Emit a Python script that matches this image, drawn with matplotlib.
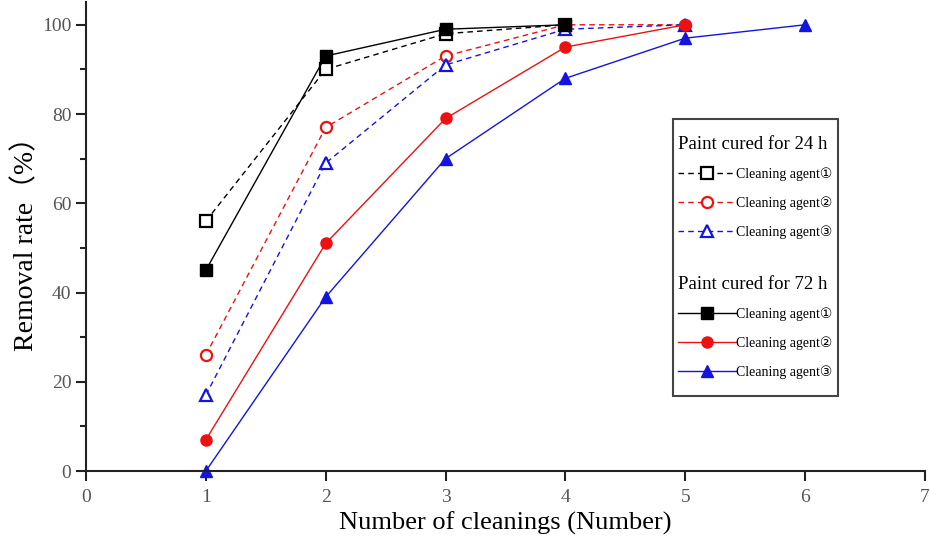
import matplotlib
matplotlib.use("Agg")
import matplotlib.pyplot as plt
from matplotlib.patches import Rectangle

plt.rcParams['font.family'] = ['Liberation Serif', 'DejaVu Sans', 'Noto Sans CJK SC']

# removal rate (%) per number of cleanings
cleanings = [1, 2, 3, 4, 5, 6]
agent_labels = ['Cleaning agent①', 'Cleaning agent②', 'Cleaning agent③']

cured24 = [
    [56, 90, 98, 100],
    [26, 77, 93, 100, 100],
    [17, 69, 91, 99, 100],
]
cured72 = [
    [45, 93, 99, 100],
    [7, 51, 79, 95, 100],
    [0, 39, 70, 88, 97, 100],
]

colors = ['black', '#ee1111', '#1414e0']
markers = ['s', 'o', '^']

fig = plt.figure(figsize=(9.3, 5.48), dpi=100)
ax = fig.add_axes([0.0925, 0.1405, 0.902, 0.855])

h24 = []
h72 = []
for i in range(3):
    ys = cured24[i]
    ln, = ax.plot(cleanings[:len(ys)], ys, linestyle=(0, (4, 3)), color=colors[i], lw=1.0,
                  marker=markers[i], markersize=8, markerfacecolor='white',
                  markeredgecolor=colors[i], markeredgewidth=1.6, label=agent_labels[i])
    h24.append(ln)
for i in range(3):
    ys = cured72[i]
    ln, = ax.plot(cleanings[:len(ys)], ys, linestyle='-', color=colors[i], lw=1.0,
                  marker=markers[i], markersize=8, markerfacecolor=colors[i],
                  markeredgecolor=colors[i], label=agent_labels[i], clip_on=False)
    h72.append(ln)

ax.set_xlim(0, 7)
ax.set_ylim(0, 105)
ax.set_xticks(range(0, 8))
ax.set_yticks(range(0, 101, 20))
ax.set_yticks(range(10, 100, 20), minor=True)
ax.spines['top'].set_visible(False)
ax.spines['right'].set_visible(False)
for s in ['left', 'bottom']:
    ax.spines[s].set_linewidth(1.5)
    ax.spines[s].set_color('#222222')
ax.tick_params(axis='both', which='major', direction='out', length=7, width=1.5,
               labelsize=14, labelcolor='#555555', color='#222222')
ax.tick_params(axis='y', which='minor', direction='out', length=4, width=1.5, color='#222222')
ax.tick_params(axis='x', pad=6)

ax.set_xlabel('Number of cleanings (Number)', fontsize=19, labelpad=4)
ax.set_ylabel('Removal rate（%）', fontsize=20, labelpad=2)

leg_kw = dict(frameon=False, fontsize=10, title_fontsize=13.5, handlelength=4.2,
              handletextpad=0.0, labelspacing=1.08, alignment='left',
              borderaxespad=0, loc='upper left', bbox_transform=fig.transFigure)
leg1 = ax.legend(handles=h24, title='Paint cured for 24 h',
                 bbox_to_anchor=(672 / 930, 1 - 130 / 548), **leg_kw)
ax.add_artist(leg1)
leg2 = ax.legend(handles=h72, title='Paint cured for 72 h',
                 bbox_to_anchor=(672 / 930, 1 - 270 / 548), **leg_kw)

fig.patches.append(Rectangle((673 / 930, 1 - 396 / 548), 165 / 930, 277 / 548,
                             transform=fig.transFigure, fill=False,
                             edgecolor='#444444', lw=1.5))

fig.savefig('out.png', dpi=100)
